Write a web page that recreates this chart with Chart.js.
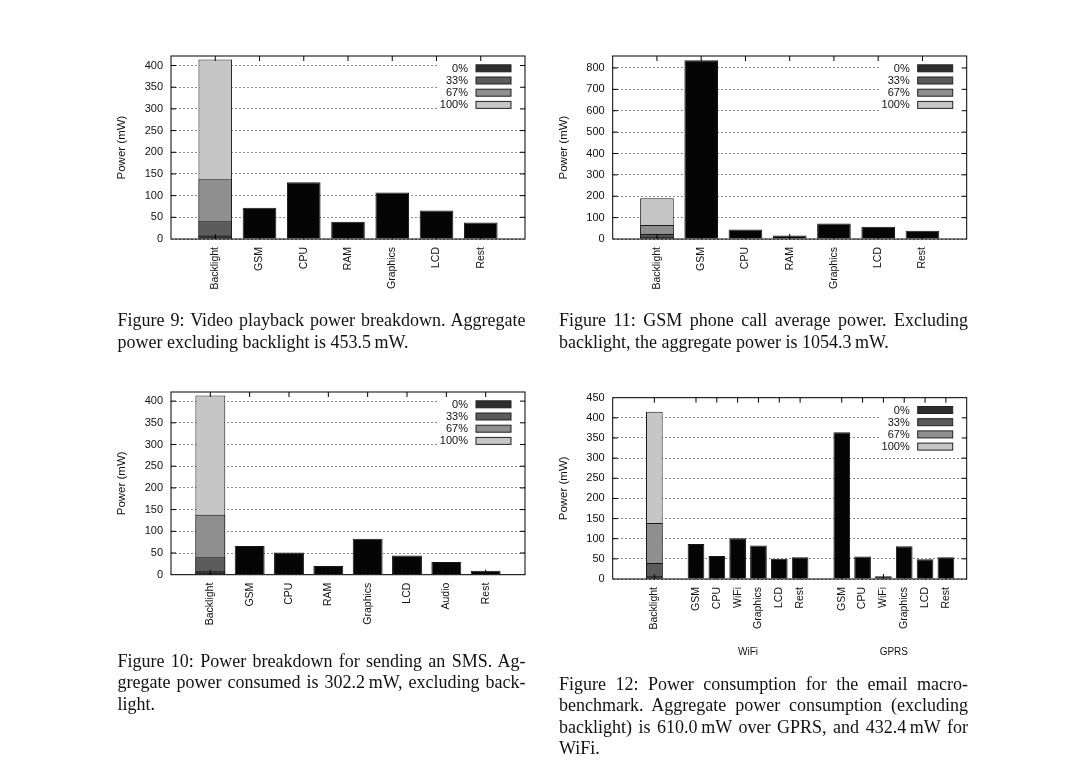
<!DOCTYPE html>
<html>
<head>
<meta charset="utf-8">
<script src="https://cdn.jsdelivr.net/npm/chart.js@4.4.1/dist/chart.umd.min.js"></script>
<style>
    body { margin: 0; background: #fff; width: 1080px; height: 773px; overflow: hidden; position: relative; }
    canvas.fig { position: absolute; }
    .cap { position: absolute; font-family: "Liberation Serif", "Times New Roman", serif; font-size: 18px; line-height: 21.6px; color: #111; }
    .cap div { text-align: justify; text-align-last: justify; white-space: nowrap; }
    .cap div.last { text-align-last: left; }
</style>
</head>
<body>
<canvas class="fig" id="fig9"></canvas>
<canvas class="fig" id="fig11"></canvas>
<canvas class="fig" id="fig10"></canvas>
<canvas class="fig" id="fig12"></canvas>

<div class="cap" style="left:117.5px;top:310.2px;width:408px">
    <div>Figure 9: Video playback power breakdown. Aggregate</div>
    <div class="last">power excluding backlight is 453.5&#8201;mW.</div>
</div>
<div class="cap" style="left:559px;top:310.2px;width:409px">
    <div>Figure 11: GSM phone call average power. Excluding</div>
    <div class="last">backlight, the aggregate power is 1054.3&#8201;mW.</div>
</div>
<div class="cap" style="left:117.5px;top:650.5px;width:408px">
    <div>Figure 10: Power breakdown for sending an SMS. Ag-</div>
    <div>gregate power consumed is 302.2&#8201;mW, excluding back-</div>
    <div class="last">light.</div>
</div>
<div class="cap" style="left:559px;top:673.5px;width:409px">
    <div>Figure 12: Power consumption for the email macro-</div>
    <div>benchmark. Aggregate power consumption (excluding</div>
    <div>backlight) is 610.0&#8201;mW over GPRS, and 432.4&#8201;mW for</div>
    <div class="last">WiFi.</div>
</div>

<script>
/* ============================
   Power breakdown figures
   ============================ */

// backlight brightness levels (key entries)
const levelLabels = ['0%', '33%', '67%', '100%'];

// Figure 9: video playback
const fig9Parts = ['GSM', 'CPU', 'RAM', 'Graphics', 'LCD', 'Rest'];
const fig9Power = [72, 131, 40, 107, 66, 38];
const fig9Backlight = [8, 41, 138, 414];

// Figure 11: GSM phone call
const fig11Parts = ['GSM', 'CPU', 'RAM', 'Graphics', 'LCD', 'Rest'];
const fig11Power = [836, 45, 16, 73, 57, 39];
const fig11Backlight = [12, 23, 65, 191];

// Figure 10: sending an SMS
const fig10Parts = ['GSM', 'CPU', 'RAM', 'Graphics', 'LCD', 'Audio', 'Rest'];
const fig10Power = [66, 51, 20, 83, 44, 29, 9];
const fig10Backlight = [8, 40, 138, 413];

// Figure 12: email macro-benchmark
const fig12Parts = ['GSM', 'CPU', 'WiFi', 'Graphics', 'LCD', 'Rest'];
const fig12Groups = ['WiFi', 'GPRS'];
const fig12WiFi = [87, 57, 101, 83, 50, 54];
const fig12GPRS = [364, 56, 7, 81, 49, 54];
const fig12Backlight = [7, 40, 139, 415];

const LEVEL_FILL = ['#2e2e2e', '#5b5b5b', '#8f8f8f', '#c6c6c6'];
const BAR_FILL = '#050505';
const SANS = '"Liberation Sans", Arial, Helvetica, sans-serif';

Chart.defaults.font.family = SANS;
Chart.defaults.color = '#111';
Chart.defaults.animation = false;

// gnuplot-ish frame: box, inward ticks, key with white backing, group labels
const gnuFrame = {
    id: 'gnuFrame',
    afterDraw(chart, args, opts) {
        const { ctx, chartArea: a, scales: { x, y } } = chart;
        ctx.save();

        // key
        const rows = chart.data.datasets.filter(d => d.inKey);
        ctx.font = '11px ' + SANS;
        const swR = a.right - 14, swW = 35, swH = 7;
        const txtR = swR - swW - 8;
        const row0 = a.top + 12.3, step = 12.2;
        const widest = Math.max(...rows.map(d => ctx.measureText(d.label).width));
        ctx.fillStyle = '#fff';
        ctx.fillRect(txtR - widest - 2, row0 - 7, a.right - 1 - (txtR - widest - 2), step * (rows.length - 1) + 14);
        rows.forEach((d, i) => {
            const cy = row0 + i * step;
            ctx.fillStyle = '#111';
            ctx.textAlign = 'right';
            ctx.textBaseline = 'middle';
            ctx.fillText(d.label, txtR, cy + 0.5);
            ctx.fillStyle = d.backgroundColor;
            ctx.fillRect(swR - swW, cy - swH / 2, swW, swH);
            ctx.strokeStyle = '#222';
            ctx.lineWidth = 1;
            ctx.strokeRect(swR - swW, cy - swH / 2, swW, swH);
        });

        // ticks + frame
        ctx.strokeStyle = '#000';
        ctx.lineWidth = 1;
        const seg = (x0, y0, x1, y1) => { ctx.beginPath(); ctx.moveTo(x0, y0); ctx.lineTo(x1, y1); ctx.stroke(); };
        y.ticks.forEach(t => {
            const py = y.getPixelForValue(t.value);
            if (py <= a.top + 1 || py >= a.bottom - 1) return;
            seg(a.left, py, a.left + 5, py);
            seg(a.right - 5, py, a.right, py);
        });
        x.getLabels().forEach((l, i) => {
            if (!l) return;
            const px = x.getPixelForValue(i);
            seg(px, a.top, px, a.top + 5);
            seg(px, a.bottom - 5, px, a.bottom);
        });
        ctx.strokeRect(a.left, a.top, a.right - a.left, a.bottom - a.top);

        // group captions under the x labels
        (opts.groups || []).forEach(g => {
            const px = (x.getPixelForValue(g.from) + x.getPixelForValue(g.to)) / 2;
            ctx.fillStyle = '#111';
            ctx.font = '10px ' + SANS;
            ctx.textAlign = 'center';
            ctx.textBaseline = 'middle';
            ctx.fillText(g.name, px, a.bottom + 73);
        });
        ctx.restore();
    }
};

function buildChart(id, frame, spec) {
    // categories: leading blanks, Backlight, then groups of parts
    const labels = [];
    for (let i = 0; i < spec.lead; i++) labels.push('');
    const blIdx = labels.length;
    labels.push('Backlight');
    const spans = [];
    spec.groups.forEach(g => {
        if (spec.gap) labels.push('');
        const from = labels.length;
        g.parts.forEach(p => labels.push(p));
        spans.push({ name: g.name, from, to: labels.length - 1 });
    });
    labels.push('');

    const blank = () => labels.map(() => null);
    const datasets = levelLabels.map((lab, k) => {
        const d = blank();
        d[blIdx] = spec.backlight[k];
        return { label: lab, data: d, backgroundColor: LEVEL_FILL[k], inKey: true };
    });
    const comp = blank();
    spec.groups.forEach((g, gi) => g.values.forEach((v, j) => { comp[spans[gi].from + j] = v; }));
    datasets.push({ label: 'parts', data: comp, backgroundColor: BAR_FILL, inKey: false });
    datasets.forEach(d => Object.assign(d, {
        borderColor: '#161616', borderWidth: 1, grouped: false,
        categoryPercentage: 1, barPercentage: spec.barPct
    }));

    // canvas placement from plot frame (page coords)
    const cv = document.getElementById(id);
    const left = Math.floor(frame.x0 - 75), top = Math.floor(frame.y0 - 10);
    const W = Math.ceil(frame.x1 - left + 15), H = Math.ceil(frame.y1 - top + 85);
    cv.style.left = left + 'px';
    cv.style.top = top + 'px';
    cv.width = W; cv.height = H;
    cv.style.width = W + 'px'; cv.style.height = H + 'px';
    const scaleLeft = frame.titleX - 10.9;
    const yWidth = frame.x0 - scaleLeft;
    const xHeight = H - (frame.y1 - top);

    return new Chart(cv, {
        type: 'bar',
        data: { labels, datasets },
        options: {
            responsive: false,
            layout: { padding: { left: scaleLeft - left, top: frame.y0 - top, right: W - (frame.x1 - left), bottom: 0 } },
            plugins: {
                legend: { display: false },
                tooltip: { enabled: false },
                gnuFrame: { groups: spec.gap ? spans : [] }
            },
            scales: {
                x: {
                    offset: false,
                    grid: { display: false, drawTicks: false },
                    border: { display: false },
                    ticks: { autoSkip: false, minRotation: 90, maxRotation: 90, padding: 8, color: '#111', font: { size: 10.5 } },
                    afterFit: s => { s.height = xHeight; s.paddingLeft = 0; s.paddingRight = 0; }
                },
                y: {
                    min: 0, max: spec.yMax,
                    grid: { color: '#8a8a8a', lineWidth: 1, drawTicks: false },
                    border: { display: false, dash: [2, 2] },
                    ticks: { stepSize: spec.yStep, includeBounds: false, padding: 8, color: '#111', font: { size: 11 } },
                    title: { display: true, text: 'Power (mW)', color: '#111', font: { size: 11.5 } },
                    afterBuildTicks: s => { s.ticks = s.ticks.filter(t => t.value % spec.yStep === 0); },
                    afterFit: s => { s.width = yWidth; s.paddingTop = 0; s.paddingBottom = 0; }
                }
            }
        },
        plugins: [gnuFrame]
    });
}

buildChart('fig9', { x0: 171, y0: 56, x1: 525, y1: 239, titleX: 121.7 }, {
    lead: 1, gap: false, barPct: 0.76, yMax: 422, yStep: 50,
    backlight: fig9Backlight,
    groups: [{ name: '', parts: fig9Parts, values: fig9Power }]
});

buildChart('fig11', { x0: 612.7, y0: 56, x1: 966.7, y1: 239, titleX: 564 }, {
    lead: 1, gap: false, barPct: 0.76, yMax: 856, yStep: 100,
    backlight: fig11Backlight,
    groups: [{ name: '', parts: fig11Parts, values: fig11Power }]
});

buildChart('fig10', { x0: 171, y0: 392, x1: 525, y1: 574.7, titleX: 121.7 }, {
    lead: 1, gap: false, barPct: 0.76, yMax: 421, yStep: 50,
    backlight: fig10Backlight,
    groups: [{ name: '', parts: fig10Parts, values: fig10Power }]
});

buildChart('fig12', { x0: 612.7, y0: 397.7, x1: 966.7, y1: 579, titleX: 564 }, {
    lead: 2, gap: true, barPct: 0.8, yMax: 450, yStep: 50,
    backlight: fig12Backlight,
    groups: [
        { name: fig12Groups[0], parts: fig12Parts, values: fig12WiFi },
        { name: fig12Groups[1], parts: fig12Parts, values: fig12GPRS }
    ]
});
</script>
</body>
</html>
